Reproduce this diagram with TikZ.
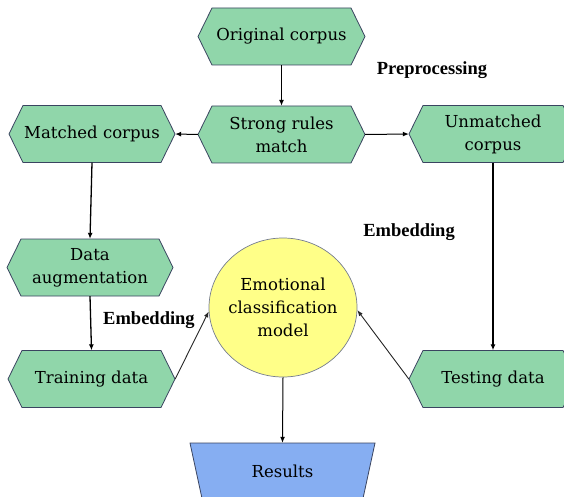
\documentclass[tikz,border=0pt]{standalone}
\usepackage{fontspec}
\setmainfont{Liberation Serif}
\newfontfamily\boxfont{DejaVu Serif}
\usetikzlibrary{shapes.geometric,arrows.meta}
\definecolor{boxgreen}{RGB}{144,214,170}
\definecolor{boxedge}{RGB}{58,68,96}
\definecolor{modelyellow}{RGB}{255,255,136}
\definecolor{resultblue}{RGB}{134,174,242}

% hexagonal process box: name, centre x, centre y, width, text
\newcommand{\hexat}[5]{%
  \path[hexfill] (#2-#4/2,#3) -- (#2-#4/2+14,#3-28.5) -- (#2+#4/2-14,#3-28.5)
    -- (#2+#4/2,#3) -- (#2+#4/2-14,#3+28.5) -- (#2-#4/2+14,#3+28.5) -- cycle;
  \node[hexbox, minimum width=#4] (#1) at (#2,#3) {#5};}

\begin{document}
\begin{tikzpicture}[x=1pt,y=-1pt,
  boxtext/.style={font=\boxfont\fontsize{16.5}{23}\selectfont},
  hexfill/.style={fill=boxgreen, draw=boxedge, line width=0.8pt},
  hexbox/.style={boxtext, minimum height=57pt, inner sep=0pt, align=center},
  tag/.style={font=\fontsize{18.5}{22}\selectfont\bfseries},
  flow/.style={line width=1.3pt, -{Latex[length=6pt,width=5pt]}},
  thinflow/.style={line width=0.9pt, black!85, -{Latex[length=6pt,width=4.5pt]}}]

% page frame; shapes running past the right and bottom edges are cut by it
\useasboundingbox (0,0) rectangle (564,497);

% process boxes
\hexat{orig}{281.5}{36.5}{167}{Original corpus}
\hexat{strong}{281.5}{134.5}{167}{Strong rules\\match}
\hexat{matched}{92}{134}{166}{Matched corpus}
\hexat{unmatched}{493}{134}{168}{Unmatched\\corpus}
\hexat{aug}{90}{267.5}{166}{Data\\augmentation}
\hexat{train}{91.5}{379}{167}{Training data}
\hexat{test}{493}{379}{168}{Testing data}

% classification model: fixed-size ellipse with its caption set on top
\node[ellipse, fill=modelyellow, draw=boxedge!70, line width=0.7pt,
  minimum width=148pt, minimum height=139pt, inner sep=0pt] (model) at (283,307.5) {};
\node[boxtext, align=center, inner sep=0pt] (modeltext) at (model.center)
  {Emotional\\classification\\model};

% results trapezoid
\path[fill=resultblue, draw=boxedge, line width=0.8pt]
  (190,443) -- (375,443) -- (362,503) -- (203,503) -- cycle;
\node[boxtext, minimum height=57pt, inner sep=0pt] (res) at (282.5,471.5) {Results};

% stage labels
\node[tag] (lpre) at (432,70) {Preprocessing};
\node[tag] (lembr) at (409,232) {Embedding};
\node[tag] (lembl) at (149,320) {Embedding};

% connectors
\draw[flow] (orig.south) -- (strong.north);
\draw[flow, line width=1pt] (strong.west) -- (matched.east);
\draw[flow, line width=1pt] (strong.east) -- (unmatched.west);
\draw[flow] (matched.south) -- (aug.north);
\draw[flow] (aug.south) -- (train.north);
\draw[flow] (unmatched.south) -- (test.north);
\draw[thinflow] (train.east) -- (model.183);
\draw[thinflow] (test.west) -- (model.358);
\draw[flow, line width=1pt] (model.south) -- (res.north);
\end{tikzpicture}
\end{document}
